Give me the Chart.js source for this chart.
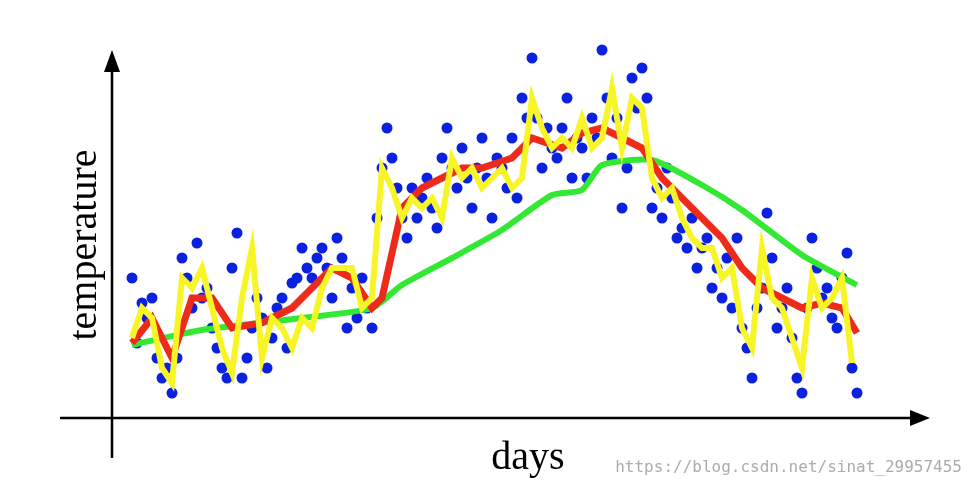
<!DOCTYPE html>
<html><head><meta charset="utf-8">
<script src="https://cdn.jsdelivr.net/npm/chart.js"></script>
<style>html,body{margin:0;background:#fff}#w{width:974px;height:489px}</style>
</head><body><div id="w"><canvas id="c"></canvas></div>
<script>
const blueTemps=[140,75,115,100,120,60,40,50,25,60,160,140,110,175,120,130,90,70,50,40,150,185,40,60,90,120,100,50,80,110,120,70,135,140,170,150,140,160,170,150,120,180,160,90,130,100,140,110,90,200,250,290,260,230,200,180,230,200,220,240,210,190,260,290,250,230,270,240,210,250,280,240,200,260,250,230,280,220,320,300,360,300,250,290,270,260,290,320,240,280,270,240,300,280,368,320,260,300,210,250,340,310,350,320,210,230,200,250,220,180,190,170,200,150,170,180,130,150,120,160,110,180,90,70,40,110,130,205,160,90,110,130,80,40,25,110,180,150,120,130,100,90,140,165,50,25];
const yellowDays=[0,2,4,6,8,10,12,14,16,18,20,22,24,26,28,30,32,34,36,38,40,42,44,46,48,50,52,54,56,58,60,62,64,66,68,70,72,74,76,78,80,82,84,86,88,90,92,94,96,98,100,102,104,106,108,110,112,114,116,118,120,122,124,126,128,130,132,134,136,138,140,142,144];
const yellowTemps=[80,110,100,50,35,140,130,150,110,70,
45,120,170,60,100,90,70,100,90,130,
150,150,150,110,120,250,230,200,220,210,
220,200,260,240,250,230,240,250,230,240,
320,290,270,280,270,300,270,280,330,270,
320,310,240,220,230,200,180,170,170,140,
150,90,70,170,120,110,80,50,140,110,120,140,55];
const redDays=[0,4,8,12,16,20,26,32,36,40,44,48,50,54,58,62,66,70,76,80,86,90,94,98,102,106,110,114,118,122,126,130,134,138,142,145];
const redTemps=[75,100,60,120,120,90,95,110,130,150,140,110,120,210,230,240,250,250,260,280,270,285,290,280,270,240,220,200,180,150,130,120,110,115,110,85];
const greenDays=[0,14,34,48,54,64,74,84,90,94,104,114,122,134,145];
const greenTemps=[73,88,100,110,133,160,188,223,228,253,258,233,208,163,133];
const xy=(d,v)=>d.map((x,i)=>({x,y:v[i]}));
const axes={id:'axes',afterDraw(c){const x=c.ctx;x.save();x.strokeStyle='#000';x.fillStyle='#000';x.lineWidth=2.5;
x.beginPath();x.moveTo(112,458);x.lineTo(112,62);x.moveTo(60,418);x.lineTo(915,418);x.stroke();
x.beginPath();x.moveTo(112,50);x.lineTo(104,72);x.lineTo(120,72);x.closePath();x.fill();
x.beginPath();x.moveTo(930,418);x.lineTo(910,410);x.lineTo(910,426);x.closePath();x.fill();
x.font='40px "Liberation Serif"';x.textAlign='center';x.textBaseline='middle';x.fillText('days',528,458);
x.save();x.translate(85,245);x.rotate(-Math.PI/2);x.fillText('temperature',0,0);x.restore();
x.font='16px "DejaVu Sans Mono"';x.fillStyle='rgba(150,150,150,0.8)';x.textAlign='right';x.fillText('https://blog.csdn.net/sinat_29957455',962,468);
x.restore();}};
new Chart(document.getElementById('c'),{type:'scatter',data:{datasets:[
{data:xy(yellowDays,yellowTemps),showLine:true,borderColor:'#f7f526',borderWidth:6,pointRadius:0,order:1},
{data:xy(redDays,redTemps),showLine:true,borderColor:'#ee2a1a',borderWidth:7,pointRadius:0,order:2},
{data:xy(greenDays,greenTemps),showLine:true,borderColor:'#33e833',borderWidth:6,pointRadius:0,tension:0.2,order:3},
{data:blueTemps.map((v,i)=>({x:i,y:v})),backgroundColor:'#0a22e0',borderWidth:0,pointRadius:5.5,order:4}
]},options:{responsive:true,maintainAspectRatio:false,animation:false,
layout:{padding:{left:112,right:42,top:40,bottom:71}},
plugins:{legend:{display:false},tooltip:{enabled:false}},
scales:{x:{type:'linear',display:false,min:-4,max:160},y:{display:false,min:0,max:378}}},plugins:[axes]});
</script></body></html>
